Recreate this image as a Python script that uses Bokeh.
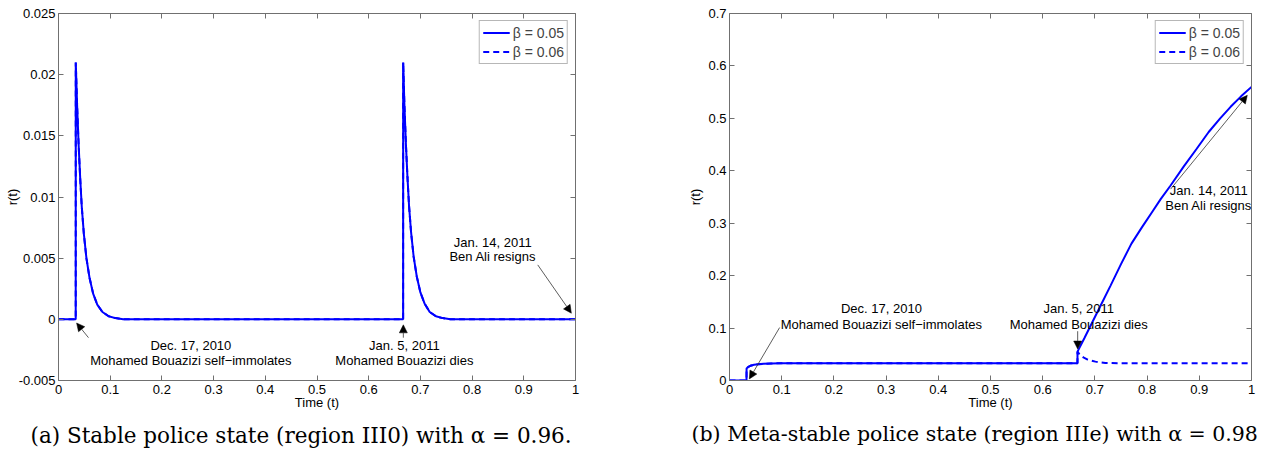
from bokeh.plotting import figure
from bokeh.models import (Range1d, FixedTicker, CustomJSTickFormatter, LinearAxis, Legend,
                          LegendItem, Label, Arrow, NormalHead, Title)
from bokeh.layouts import row
from bokeh.embed import file_html
from bokeh.resources import INLINE

# ---------------- data ----------------
# (a) stable police state, alpha = 0.96
t_a = [0.0, 0.0333, 0.0334, 0.036, 0.039, 0.042, 0.045, 0.049, 0.054, 0.060, 0.067, 0.075,
       0.085, 0.097, 0.110, 0.125,
       0.6666, 0.6667, 0.669, 0.672, 0.675, 0.678, 0.682, 0.687, 0.693, 0.700, 0.708, 0.718,
       0.730, 0.743, 0.758, 1.0]
r_a_b05 = [0.0, 0.0, 0.021, 0.0175, 0.0142, 0.0115, 0.0092, 0.0070, 0.0050, 0.0034, 0.0021,
           0.0012, 0.0006, 0.00025, 0.0001, 0.0,
           0.0, 0.021, 0.0176, 0.0143, 0.0116, 0.0093, 0.0071, 0.0051, 0.0035, 0.0022, 0.0013,
           0.0006, 0.00025, 0.0001, 0.0, 0.0]
r_a_b06 = list(r_a_b05)

# (b) meta-stable police state, alpha = 0.98
t_b05 = [0.0, 0.0326, 0.0327, 0.036, 0.040, 0.047, 0.055, 0.065, 0.080, 0.100, 0.6666,
         0.6667, 0.680, 0.695, 0.711, 0.730, 0.750, 0.770, 0.790, 0.810, 0.826, 0.845, 0.870,
         0.895, 0.918, 0.940, 0.960, 0.980, 1.0]
r_b05 = [0.0, 0.0, 0.023, 0.026, 0.028, 0.030, 0.031, 0.0318, 0.0325, 0.033, 0.033,
         0.055, 0.081, 0.111, 0.143, 0.181, 0.222, 0.261, 0.292, 0.322, 0.346, 0.372, 0.408,
         0.442, 0.474, 0.500, 0.522, 0.542, 0.560]
t_b06 = [0.0, 0.0326, 0.0327, 0.036, 0.040, 0.047, 0.055, 0.065, 0.080, 0.100, 0.6666,
         0.6667, 0.671, 0.678, 0.686, 0.701, 0.720, 0.750, 1.0]
r_b06 = [0.0, 0.0, 0.023, 0.026, 0.028, 0.030, 0.031, 0.0318, 0.0325, 0.033, 0.033,
         0.055, 0.049, 0.044, 0.040, 0.036, 0.0335, 0.033, 0.033]

x_ticks = [0, 0.1, 0.2, 0.3, 0.4, 0.5, 0.6, 0.7, 0.8, 0.9, 1.0]
y_ticks_a = [-0.005, 0, 0.005, 0.01, 0.015, 0.02, 0.025]
y_ticks_b = [0, 0.1, 0.2, 0.3, 0.4, 0.5, 0.6, 0.7]
legend_labels = ["β = 0.05", "β = 0.06"]

BLUE = "#0000ff"
AXC = "#707070"
SANS = "Liberation Sans"
SERIF = "DejaVu Serif"
H = 455


def fmt(dec):
    return CustomJSTickFormatter(code=f"return tick.toFixed({dec}).replace(/\\.?0+$/, '');")


def style_axis(ax, label_dec=None, ticks=None):
    ax.ticker = FixedTicker(ticks=ticks)
    ax.axis_line_color = AXC
    ax.major_tick_line_color = AXC
    ax.major_tick_in = 5
    ax.major_tick_out = 0
    ax.minor_tick_line_color = None
    ax.major_label_text_font = SANS
    ax.major_label_text_font_size = "13px"
    ax.major_label_text_color = "black"
    ax.axis_label_text_font = SANS
    ax.axis_label_text_font_size = "13px"
    ax.axis_label_text_font_style = "normal"
    ax.axis_label_text_color = "black"
    if label_dec is None:
        ax.formatter = CustomJSTickFormatter(code="return '';")
        ax.major_label_standoff = 0
    else:
        ax.formatter = fmt(label_dec)


def make_fig(width, mbl, mbr, mbb, yr, yticks, ydec, ylab_standoff):
    p = figure(width=width, height=H, output_backend="svg", toolbar_location=None,
               x_range=Range1d(0, 1), y_range=Range1d(*yr),
               min_border_left=mbl, min_border_right=mbr, min_border_top=13,
               min_border_bottom=mbb, x_axis_label="Time (t)", y_axis_label="r(t)")
    p.grid.visible = False
    p.outline_line_color = None
    p.background_fill_color = "white"
    p.border_fill_color = "white"
    style_axis(p.xaxis[0], 1, x_ticks)
    style_axis(p.yaxis[0], ydec, yticks)
    p.xaxis[0].major_label_standoff = 4
    p.xaxis[0].axis_label_standoff = -2
    p.yaxis[0].major_label_standoff = 3
    p.yaxis[0].axis_label_standoff = ylab_standoff
    top = LinearAxis()
    style_axis(top, None, x_ticks)
    p.add_layout(top, "above")
    right = LinearAxis()
    style_axis(right, None, yticks)
    p.add_layout(right, "right")
    return p


def add_legend(p, r1, r2):
    leg = Legend(items=[LegendItem(label=legend_labels[0], renderers=[r1]),
                        LegendItem(label=legend_labels[1], renderers=[r2])],
                 location="top_right", margin=7, padding=3, spacing=2,
                 glyph_width=27, glyph_height=17, label_height=17, label_standoff=3,
                 label_text_font=SANS, label_text_font_size="14px",
                 border_line_color=AXC, border_line_width=1,
                 background_fill_color="white", background_fill_alpha=1.0)
    p.add_layout(leg)


def note(p, x, y, text):
    p.add_layout(Label(x=x, y=y, text=text, text_align="center", text_baseline="middle",
                       text_font=SANS, text_font_size="13px", text_color="black"))


def arrow(p, x0, y0, x1, y1):
    p.add_layout(Arrow(end=NormalHead(size=8, fill_color="black", line_color="black",
                                      line_width=0.5),
                       x_start=x0, y_start=y0, x_end=x1, y_end=y1,
                       line_color="#333333", line_width=0.8))


# ---------------- (a) ----------------
pa = make_fig(628, 58, 53, H - 380, (-0.005, 0.025), y_ticks_a, 3, -4)
ra2 = pa.line(t_a, r_a_b06, line_color=BLUE, line_width=2, line_dash="6 4")
ra1 = pa.line(t_a, r_a_b05, line_color=BLUE, line_width=2)
add_legend(pa, ra1, ra2)
note(pa, 0.256, -0.00216, "Dec. 17, 2010")
note(pa, 0.256, -0.00339, "Mohamed Bouazizi self\u2212immolates")
note(pa, 0.669, -0.00216, "Jan. 5, 2011")
note(pa, 0.669, -0.00339, "Mohamed Bouazizi dies")
note(pa, 0.84, 0.00628, "Jan. 14, 2011")
note(pa, 0.84, 0.00513, "Ben Ali resigns")
arrow(pa, 0.058, -0.0015, 0.035, -0.0003)
arrow(pa, 0.667, -0.0015, 0.667, -0.00045)
arrow(pa, 0.927, 0.00445, 0.992, 0.0005)
pa.add_layout(Title(text="(a) Stable police state (region III0) with α = 0.96.", align="left",
                    offset=-28, text_font=SERIF, text_font_size="21.5px",
                    text_font_style="normal", text_color="black", standoff=16), "below")

# ---------------- (b) ----------------
pb = make_fig(644, 101, 21, H - 383, (0, 0.7), y_ticks_b, 1, 2)
rb2 = pb.line(t_b06, r_b06, line_color=BLUE, line_width=2, line_dash="6 4")
rb1 = pb.line(t_b05, r_b05, line_color=BLUE, line_width=2)
add_legend(pb, rb1, rb2)
note(pb, 0.291, 0.137, "Dec. 17, 2010")
note(pb, 0.291, 0.107, "Mohamed Bouazizi self\u2212immolates")
note(pb, 0.669, 0.137, "Jan. 5, 2011")
note(pb, 0.669, 0.107, "Mohamed Bouazizi dies")
note(pb, 0.918, 0.362, "Jan. 14, 2011")
note(pb, 0.918, 0.333, "Ben Ali resigns")
arrow(pb, 0.096, 0.101, 0.038, 0.003)
arrow(pb, 0.667, 0.094, 0.667, 0.060)
arrow(pb, 0.845, 0.365, 0.992, 0.544)
pb.add_layout(Title(text="(b) Meta-stable police state (region IIIe) with α = 0.98", align="left",
                    offset=-38, text_font=SERIF, text_font_size="20.5px",
                    text_font_style="normal", text_color="black", standoff=14), "below")

layout = row(pa, pb)
open("out.html", "w").write(file_html(layout, INLINE))
